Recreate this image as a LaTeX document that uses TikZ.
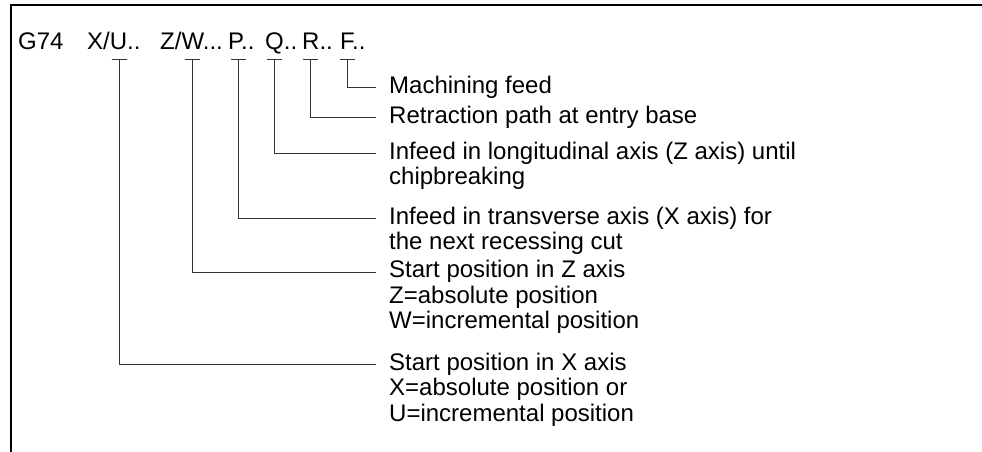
\documentclass[tikz,border=0pt]{standalone}
\usepackage{fontspec}
\setmainfont{Liberation Sans}
\usepackage{tikz}
\tikzstyle{field} = [anchor=base west, inner sep=0pt, font=\fontsize{24}{25.5}\selectfont]
\tikzstyle{note} = [anchor=base west, inner xsep=13pt, inner ysep=0pt, font=\fontsize{24}{25.5}\selectfont]
\tikzstyle{leader} = [line width=0.9pt, black!80]
\tikzstyle{frame} = [line width=1.6pt]
% first line of a note sits on the node's baseline
\newcommand{\notelines}[1]{\begin{tabular}[t]{@{}l@{}}#1\end{tabular}}

\begin{document}
\begin{tikzpicture}[x=1pt, y=-1pt]
	\useasboundingbox (0,0) rectangle (982,452);
	\draw [frame] (982,5) -- (11,5) -- (11,452);

	% block address words
	\node (g74) [field] at (18,50) {G74};
	\node (xu) [field] at (87,50) {X/U..};
	\node (zw) [field] at (160,50) {Z/W...};
	\node (p) [field] at (228,50) {P..};
	\node (q) [field] at (265,50) {Q..};
	\node (r) [field] at (302,50) {R..};
	\node (f) [field] at (340,50) {F..};

	\coordinate (tXU) at (119,59);
	\coordinate (tZW) at (192,59);
	\coordinate (tP) at (238,59);
	\coordinate (tQ) at (274,59);
	\coordinate (tR) at (310,59);
	\coordinate (tF) at (347,59);

	% explanations
	\node (nF) [note] at (376,93) {\notelines{Machining feed}};
	\node (nR) [note] at (376,123) {\notelines{Retraction path at entry base}};
	\node (nQ) [note] at (376,159) {\notelines{Infeed in longitudinal axis (Z axis) until\\chipbreaking}};
	\node (nP) [note] at (376,224) {\notelines{Infeed in transverse axis (X axis) for\\the next recessing cut}};
	\node (nZW) [note] at (376,277.5) {\notelines{Start position in Z axis\\Z=absolute position\\W=incremental position}};
	\node (nXU) [note] at (376,370) {\notelines{Start position in X axis\\X=absolute position or\\U=incremental position}};

	\draw [leader] ([xshift=-7.5pt]tF) -- ([xshift=7.5pt]tF);
		\draw [leader] (tF) |- ([yshift=2.5pt]nF.mid west);
	\draw [leader] ([xshift=-7.5pt]tR) -- ([xshift=7.5pt]tR);
		\draw [leader] (tR) |- ([yshift=2.5pt]nR.mid west);
	\draw [leader] ([xshift=-7.5pt]tQ) -- ([xshift=7.5pt]tQ);
		\draw [leader] (tQ) |- ([yshift=2.5pt]nQ.mid west);
	\draw [leader] ([xshift=-7.5pt]tP) -- ([xshift=7.5pt]tP);
		\draw [leader] (tP) |- ([yshift=2.5pt]nP.mid west);
	\draw [leader] ([xshift=-7.5pt]tZW) -- ([xshift=7.5pt]tZW);
		\draw [leader] (tZW) |- ([yshift=2.5pt]nZW.mid west);
	\draw [leader] ([xshift=-7.5pt]tXU) -- ([xshift=7.5pt]tXU);
		\draw [leader] (tXU) |- ([yshift=2.5pt]nXU.mid west);

\end{tikzpicture}
\end{document}
